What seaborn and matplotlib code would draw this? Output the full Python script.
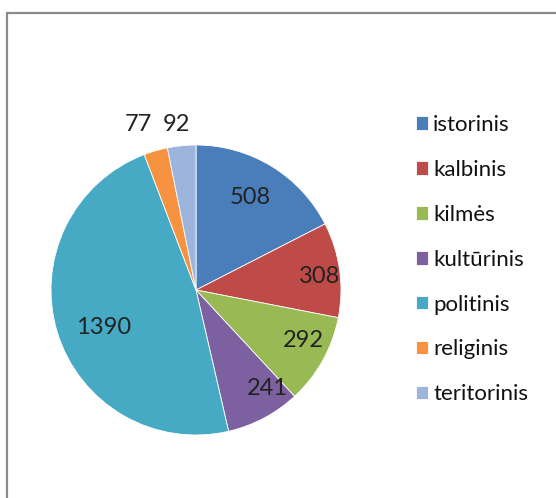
import matplotlib
import matplotlib.pyplot as plt
import numpy as np
import seaborn as sns
from matplotlib.patches import Rectangle

matplotlib.use("Agg")

categories = ["istorinis", "kalbinis", "kilmės", "kultūrinis", "politinis", "religinis", "teritorinis"]
counts = [508, 308, 292, 241, 1390, 77, 92]
colors = ["#4A7EBB", "#BE4B48", "#98B954", "#7D60A0", "#46AAC5", "#F69240", "#9DB4DC"]

# label placement: radius factor and angle nudge (deg) per slice
label_r = [0.74, 0.86, 0.82, 0.84, 0.69, 1.21, 1.15]
label_da = [1, -2, 4, 8, 5, 3, 1]

sns.set_theme(style="white")
plt.rcParams["font.family"] = ["Lato", "DejaVu Sans"]

fig = plt.figure(figsize=(5.56, 4.98), dpi=100)
W, H = 556, 498
cx, cy, R = 196, 290, 145
ax = fig.add_axes([(cx - R) / W, (H - cy - R) / H, 2 * R / W, 2 * R / H])

wedges, _ = ax.pie(
    counts,
    colors=sns.color_palette(colors),
    startangle=90,
    counterclock=False,
    radius=1.0,
    wedgeprops=dict(edgecolor="white", linewidth=0.6),
)
ax.set_xlim(-1, 1)
ax.set_ylim(-1, 1)
ax.set_aspect("equal")
ax.axis("off")

for w, v, r, da in zip(wedges, counts, label_r, label_da):
    ang = np.deg2rad((w.theta1 + w.theta2) / 2 + da)
    ax.text(r * np.cos(ang), r * np.sin(ang), str(v), ha="center", va="center",
            fontsize=17, color="#222222", clip_on=False)

leg = fig.legend(
    wedges, categories,
    loc="upper left", bbox_to_anchor=(396 / W, 1 - 95 / H),
    frameon=False, fontsize=16, labelspacing=1.12,
    handlelength=0.55, handleheight=0.55, handletextpad=0.22,
)
for t in leg.get_texts():
    t.set_color("#111111")

fig.patches.append(Rectangle((7 / W, -1), 2, 2 - 13 / H, transform=fig.transFigure,
                             fill=False, edgecolor="#8a8a8a", linewidth=1.6))

fig.savefig("out.png", dpi=100)
